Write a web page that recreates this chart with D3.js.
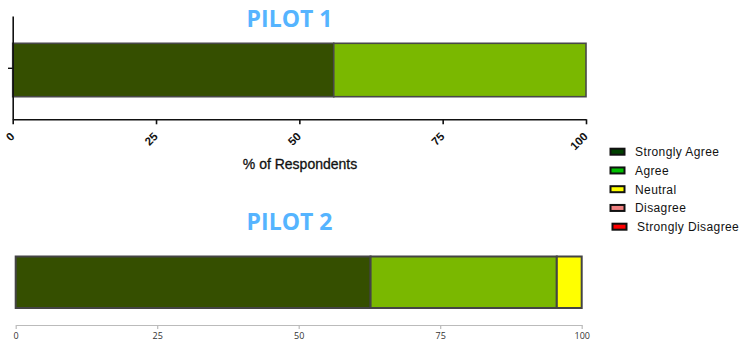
<!DOCTYPE html>
<html><head><meta charset="utf-8">
<script src="https://cdn.jsdelivr.net/npm/d3@7"></script>
<style>body{margin:0;background:#fff}svg{display:block}</style>
</head><body>
<svg id="c" width="748" height="358"></svg>
<script>
const categories = ["Strongly Agree","Agree","Neutral","Disagree","Strongly Disagree"];
const pilot1 = [56, 44, 0, 0, 0];
const pilot2 = [62.7, 32.9, 4.4, 0, 0];
const tickValues = [0, 25, 50, 75, 100];
const titles = ["PILOT 1", "PILOT 2"];
const axisLabel = "% of Respondents";
const barColors = ["#354f00", "#7ab800", "#ffff00", "#f08080", "#ff0000"];
const legendColors = ["#004000", "#00c000", "#ffff00", "#f08080", "#ff0000"];

const svg = d3.select("#c");

function stack(vals){
  let acc = 0;
  return vals.map((v,i)=>{const s={k:categories[i],x0:acc,x1:acc+v,i}; acc+=v; return s;}).filter(d=>d.x1>d.x0);
}

// ---- Pilot 1 ----
{
  const x = d3.scaleLinear().domain([0,100]).range([12.7, 586]);
  const g = svg.append("g");
  g.selectAll("rect").data(stack(pilot1)).join("rect")
    .attr("x", d=>x(d.x0)).attr("width", d=>x(d.x1)-x(d.x0))
    .attr("y", 43.3).attr("height", 53.4)
    .attr("fill", d=>barColors[d.i]).attr("stroke", "#484848").attr("stroke-width", 1.6);
  const ax = g.append("g").attr("transform","translate(0,119.3)")
    .call(d3.axisBottom(x).tickValues(tickValues).tickSize(5).tickSizeOuter(0).tickFormat(d3.format("d")));
  ax.select(".domain").attr("stroke","#111").attr("stroke-width",1.6);
  ax.selectAll(".tick line").attr("stroke","#111").attr("stroke-width",1.6);
  ax.selectAll(".tick text").attr("font-family","Liberation Sans, Arial, sans-serif")
    .attr("font-size",11.5).attr("font-weight","bold").attr("fill","#111")
    .attr("text-anchor","end").attr("dy",null).attr("y",0)
    .attr("transform","translate(2,18) rotate(-45)");
  const ay = g.append("g").attr("transform","translate(12.7,0)")
    .call(d3.axisLeft(d3.scaleLinear().domain([0,1]).range([119.3,16])).tickValues([]).tickSizeOuter(0));
  ay.select(".domain").attr("stroke","#111").attr("stroke-width",1.6);
  g.append("line").attr("x1",8).attr("x2",12.7).attr("y1",68.3).attr("y2",68.3).attr("stroke","#111").attr("stroke-width",1.4);
  g.append("text").attr("x",300).attr("y",169).attr("text-anchor","middle")
    .attr("font-family","Liberation Sans, Arial, sans-serif").attr("font-size",14)
    .attr("stroke","#111").attr("stroke-width",0.3)
    .attr("fill","#111").text(axisLabel);
  g.append("text").attr("x",289.5).attr("y",27).attr("text-anchor","middle")
    .attr("font-family","Open Sans, sans-serif").attr("font-size",23).attr("font-weight","bold")
    .attr("fill","#55b4ff").text(titles[0]);
}

// ---- Pilot 2 ----
{
  const x = d3.scaleLinear().domain([0,100]).range([15.7, 581.7]);
  const g = svg.append("g");
  g.selectAll("rect").data(stack(pilot2)).join("rect")
    .attr("x", d=>x(d.x0)).attr("width", d=>x(d.x1)-x(d.x0))
    .attr("y", 256.5).attr("height", 51.5)
    .attr("fill", d=>barColors[d.i]).attr("stroke", "#444").attr("stroke-width", 2);
  const ax = g.append("g").attr("transform","translate(0,325)")
    .call(d3.axisBottom(x).tickValues(tickValues).tickSize(4).tickSizeOuter(0).tickFormat(d3.format("d")));
  ax.select(".domain").attr("stroke","#bbb").attr("stroke-width",1.2);
  ax.selectAll(".tick line").attr("stroke","#bbb").attr("stroke-width",1.2);
  ax.selectAll(".tick text").attr("font-family","Open Sans, sans-serif")
    .attr("font-size",9).attr("fill","#333").attr("y",8);
  g.append("text").attr("x",289.5).attr("y",229.5).attr("text-anchor","middle")
    .attr("font-family","Open Sans, sans-serif").attr("font-size",23).attr("font-weight","bold")
    .attr("fill","#55b4ff").text(titles[1]);
}

// ---- Legend ----
{
  const ly = d3.scalePoint().domain(categories).range([151.7, 226.7]);
  const lg = svg.append("g").selectAll("g").data(categories).join("g")
    .attr("transform", (d,i)=>`translate(${i===4?612:610},${ly(d)})`);
  lg.append("rect").attr("x",0.5).attr("y",-3).attr("width",14).attr("height",6)
    .attr("fill",(d,i)=>legendColors[i]).attr("stroke","#111").attr("stroke-width",2);
  lg.append("text").attr("x",25).attr("y",4.5)
    .attr("font-family","Liberation Sans, Arial, sans-serif").attr("font-size",12)
    .attr("letter-spacing",0.4).attr("fill","#111").text(d=>d);
}
</script>
</body></html>
